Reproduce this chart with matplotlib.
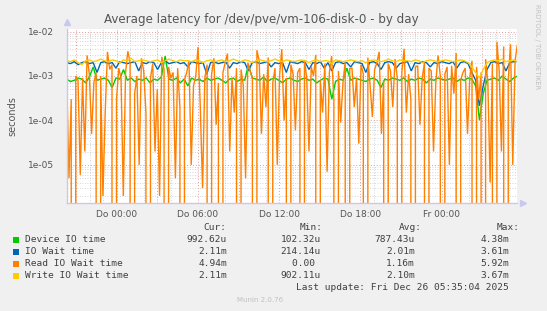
import numpy as np
import matplotlib
matplotlib.use('Agg')
import matplotlib.pyplot as plt
from matplotlib.ticker import MultipleLocator, LogLocator, FuncFormatter, NullFormatter

#################### Data ####################

# time span in hours relative to Do 00:00
start_h = -3.69
end_h = 29.59

# latencies in milliseconds
device_ms = [
    0.85, 0.75, 0.8, 0.9, 0.85, 0.7, 0.95, 1.6, 0.8, 0.85, 0.9, 0.8, 0.55, 0.9, 0.85, 1.4, 0.8, 0.9, 0.75, 0.85,
    0.8, 0.9, 0.7, 0.85, 0.8, 0.95, 2.8, 0.85, 0.8, 0.9, 0.7, 0.85, 0.6, 0.9, 0.8, 0.85, 0.75, 0.9, 0.8, 0.85,
    0.9, 0.8, 0.7, 0.85, 0.9, 0.75, 0.85, 0.8, 1.8, 0.9, 0.85, 0.8, 0.95, 0.75, 0.85, 0.9, 0.8, 0.7, 0.85, 0.9,
    0.8, 0.75, 0.85, 0.9, 0.8, 0.85, 0.7, 0.8, 0.9, 0.85, 0.3, 0.75, 0.85, 0.8, 1.5, 0.8, 0.9, 0.85, 0.8, 0.75,
    0.85, 0.9, 0.8, 0.55, 0.85, 0.8, 0.9, 0.85, 0.8, 0.9, 0.75, 0.85, 0.8, 0.9, 0.85, 0.7, 0.85, 0.8, 0.9, 0.85,
    0.8, 0.85, 0.9, 0.75, 0.85, 0.8, 0.9, 0.85, 0.6, 0.102, 0.4, 0.8, 0.85, 0.9, 0.8, 1.0, 0.85, 0.75, 0.9, 0.99,
]
iowait_ms = [
    2.0, 1.9, 2.1, 1.8, 2.0, 2.1, 1.9, 2.0, 1.2, 2.0, 2.1, 1.9, 2.0, 1.5, 2.1, 2.0, 1.9, 2.0, 2.1, 1.3,
    2.0, 1.9, 2.1, 2.0, 1.4, 2.0, 2.2, 1.9, 2.0, 2.1, 1.9, 2.0, 1.6, 2.1, 2.0, 1.9, 2.0, 1.1, 2.0, 2.1,
    1.9, 2.0, 2.1, 1.5, 2.0, 1.9, 2.1, 2.0, 1.3, 2.0, 2.1, 1.9, 2.0, 2.1, 1.6, 2.0, 1.9, 2.0, 1.2, 2.1,
    2.0, 1.9, 2.1, 2.0, 1.4, 2.0, 1.9, 2.1, 1.5, 2.0, 1.3, 2.0, 2.1, 1.9, 2.0, 1.6, 2.1, 2.0, 1.9, 1.2,
    2.0, 2.1, 1.9, 1.4, 2.0, 2.1, 2.0, 1.5, 1.9, 2.0, 2.1, 1.3, 2.0, 1.9, 2.1, 2.0, 1.6, 2.0, 1.9, 2.1,
    2.0, 1.9, 2.1, 1.5, 2.0, 2.1, 1.9, 1.2, 0.8, 0.214, 0.6, 1.4, 2.0, 2.1, 1.9, 2.0, 1.3, 2.0, 2.1, 2.11,
]
read_ms = [
    0.9, 0.005, 0.3, 0.0, 1.0, 0.8, 0.006, 0.9, 0.02, 2.9, 1.1, 0.05, 0.7, 1.2, 0.0, 1.0, 0.002, 0.15, 3.5, 1.4,
    1.8, 0.0,
    0.3, 1.5, 0.9, 0.002, 1.2, 3.6, 2.0, 0.0, 0.4, 1.0, 0.01, 2.5, 1.3, 0.15, 0.0, 0.9, 1.9, 0.02, 0.5, 0.002,
    2.7, 1.4, 0.0, 1.6, 0.9, 1.2, 0.005,
    1.5, 0.2, 0.0, 0.8, 1.2, 2.2, 0.01, 0.6, 1.0, 4.5, 0.2, 0.003, 0.9, 1.8, 0.0, 1.1, 2.5, 0.08, 0.7, 0.0,
    1.2, 2.0, 3.2, 0.02, 0.9, 0.15, 1.5,
    0.0, 1.4, 0.6, 0.005, 2.0, 1.3, 0.9, 0.0, 3.8, 2.2, 0.05, 1.1, 0.2, 2.6, 0.0, 0.7, 1.5, 0.01, 1.0, 4.0,
    0.1, 0.9, 0.0, 1.8, 1.1, 0.06, 1.2,
    1.5, 0.0, 2.3, 0.9, 0.02, 1.6, 1.0, 3.0, 0.0, 0.8, 0.15, 1.9, 0.007, 1.2, 2.8, 0.3, 0.0, 1.3, 0.09, 0.7,
    2.1, 0.0, 1.5, 1.5, 0.2, 0.9, 0.03,
    1.8, 1.1, 0.0, 2.6, 0.6, 0.12, 1.4, 2.0, 3.5, 0.05, 0.8, 0.0, 1.9, 1.3, 0.2, 2.4, 0.9, 0.0, 1.2, 4.1,
    0.15, 1.1, 0.3, 0.0, 1.6, 1.7, 0.08,
    0.9, 2.0, 0.0, 1.5, 1.3, 0.02, 0.7, 2.9, 1.0, 0.0, 1.1, 1.6, 0.01, 1.7, 0.4, 3.3, 0.0, 0.8, 1.2, 1.5,
    0.05, 0.9, 2.2, 0.0, 1.6, 0.3, 1.2,
    0.0, 2.4, 0.7, 0.004, 1.9, 0.0, 5.9, 1.3, 0.02, 4.6, 0.0, 0.8, 5.2, 0.01, 2.2, 4.94,
]
write_ms = [
    2.2, 2.1, 2.3, 2.0, 1.8, 2.2, 2.3, 2.1, 2.2, 2.4, 2.2, 2.1, 2.3, 2.2, 2.0, 2.3, 2.2, 2.5, 2.1, 2.2,
    2.3, 2.2, 2.1, 2.2, 2.3, 2.0, 2.2, 2.4, 2.2, 2.1, 2.3, 2.2, 2.2, 2.1, 2.3, 2.2, 2.0, 2.2, 2.3, 2.1,
    2.2, 2.3, 2.1, 2.2, 2.4, 2.2, 2.1, 2.3, 2.2, 2.0, 2.2, 2.3, 2.2, 2.1, 2.2, 2.4, 2.2, 2.1, 2.3, 2.2,
    2.1, 2.2, 2.3, 2.2, 2.0, 2.2, 2.3, 2.1, 2.2, 2.2, 1.9, 2.3, 2.2, 2.1, 2.2, 2.3, 2.2, 2.1, 2.2, 2.0,
    2.2, 2.3, 2.2, 2.1, 2.2, 2.4, 2.2, 2.1, 2.3, 2.2, 2.2, 2.1, 2.3, 2.2, 2.0, 2.2, 2.3, 2.2, 2.1, 2.2,
    2.3, 2.2, 2.1, 2.2, 2.3, 2.2, 2.0, 1.6, 1.2, 0.902, 1.4, 2.0, 2.2, 2.3, 2.2, 2.4, 2.1, 2.2, 2.3, 2.11,
]

labels = ['Device IO time', 'IO Wait time', 'Read IO Wait time', 'Write IO Wait time']
colors = ['#00cc00', '#0066b3', '#ff8000', '#ffcc00']
cur = ['992.62u', '2.11m', '4.94m', '2.11m']
mins = ['102.32u', '214.14u', '0.00 ', '902.11u']
avgs = ['787.43u', '2.01m', '1.16m', '2.10m']
maxs = ['4.38m', '3.61m', '5.92m', '3.67m']

tick_hours = [0, 6, 12, 18, 24]
tick_labels = ['Do 00:00', 'Do 06:00', 'Do 12:00', 'Do 18:00', 'Fr 00:00']

#################### Plot ####################

W, H = 547, 311

def fx(px):
    return px / W

def fy(py):
    return 1 - py / H

fig = plt.figure(figsize=(W / 100, H / 100), dpi=100)
fig.patch.set_facecolor('#f0f0f0')

left, right, top, bottom = 66.7, 517.3, 28.5, 202.7
ax = fig.add_axes([fx(left), fy(bottom), (right - left) / W, (bottom - top) / H])
ax.set_facecolor('white')

for series, col in zip([device_ms, iowait_ms, read_ms, write_ms], colors):
    vals = np.array(series) / 1000.0
    t = np.linspace(start_h, end_h, len(vals))
    ax.plot(t, vals, color=col, lw=1.0, solid_joinstyle='miter')

ax.set_yscale('log', nonpositive='clip')
ax.set_ylim(1.41e-6, 1.17e-2)
ax.set_xlim(start_h, end_h)

# grid: hours gray, 3h red, labels every 6h
ax.xaxis.set_major_locator(MultipleLocator(3))
ax.xaxis.set_minor_locator(MultipleLocator(1))
ax.xaxis.set_major_formatter(FuncFormatter(
    lambda v, p: tick_labels[tick_hours.index(int(round(v)))] if int(round(v)) in tick_hours else ''))
ax.yaxis.set_major_locator(LogLocator(base=10, numticks=20))
ax.yaxis.set_minor_locator(LogLocator(base=10, subs=np.arange(2, 10), numticks=20))
ax.yaxis.set_major_formatter(FuncFormatter(lambda v, p: f'{v:.0e}'))
ax.yaxis.set_minor_formatter(NullFormatter())

ax.grid(which='minor', color='#c8c8c8', linestyle=(0, (1, 2)), lw=0.6)
ax.grid(which='major', color='#e39a9a', linestyle=(0, (1, 2)), lw=0.7)
ax.set_axisbelow(True)

ax.tick_params(which='both', length=0, labelsize=6.5, labelcolor='#555555')
ax.tick_params(axis='y', pad=9)
ax.tick_params(axis='x', pad=5)

for s in ['top', 'right']:
    ax.spines[s].set_visible(False)
for s in ['left', 'bottom']:
    ax.spines[s].set_color('#c8c8e8')
    ax.spines[s].set_linewidth(1.0)

# axis arrows
ax.plot([0], [1.035], marker='^', ms=4, color='#c8c8f0', transform=ax.transAxes, clip_on=False)
ax.plot([1.012], [0], marker='>', ms=4, color='#c8c8f0', transform=ax.transAxes, clip_on=False)

ax.set_ylabel('seconds', fontsize=7, color='#555555', labelpad=8)

fig.text(fx(261), fy(19), 'Average latency for /dev/pve/vm-106-disk-0 - by day',
         ha='center', va='center', fontsize=8.6, color='#555555')
fig.text(fx(537), fy(4), 'RRDTOOL / TOBI OETIKER', rotation=-90, ha='center', va='top',
         fontsize=4.8, color='#c0c0c0')

# legend table
mono = 'DejaVu Sans Mono'
fs = 6.8
fig.text(fx(226), fy(227), 'Cur:', ha='right', va='center', family=mono, fontsize=fs, color='#404040')
fig.text(fx(323), fy(227), 'Min:', ha='right', va='center', family=mono, fontsize=fs, color='#404040')
fig.text(fx(422), fy(227), 'Avg:', ha='right', va='center', family=mono, fontsize=fs, color='#404040')
fig.text(fx(520), fy(227), 'Max:', ha='right', va='center', family=mono, fontsize=fs, color='#404040')

for i, lab in enumerate(labels):
    y = 239.5 + 12 * i
    fig.patches.append(plt.Rectangle((fx(13.3), fy(y + 3)), 6 / W, 6 / H, transform=fig.transFigure,
                                     facecolor=colors[i], edgecolor='none'))
    fig.text(fx(25), fy(y), lab, ha='left', va='center', family=mono, fontsize=fs, color='#404040')
    fig.text(fx(227), fy(y), cur[i], ha='right', va='center', family=mono, fontsize=fs, color='#404040')
    fig.text(fx(321), fy(y), mins[i], ha='right', va='center', family=mono, fontsize=fs, color='#404040')
    fig.text(fx(415), fy(y), avgs[i], ha='right', va='center', family=mono, fontsize=fs, color='#404040')
    fig.text(fx(509), fy(y), maxs[i], ha='right', va='center', family=mono, fontsize=fs, color='#404040')

fig.text(fx(509), fy(288), 'Last update: Fri Dec 26 05:35:04 2025', ha='right', va='center',
         family=mono, fontsize=fs, color='#404040')
fig.text(fx(260), fy(300), 'Munin 2.0.76', ha='center', va='center', fontsize=5, color='#c0c0c0')

fig.savefig('out.png', dpi=100, facecolor=fig.get_facecolor())
